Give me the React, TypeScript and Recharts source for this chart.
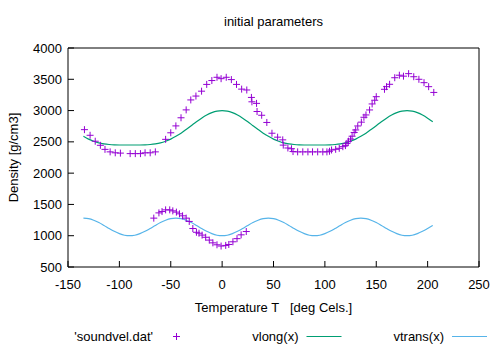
import React from 'react';
import { ComposedChart, Line, Scatter, XAxis, YAxis, Legend, Label } from 'recharts';

const FONT = '"Liberation Sans", Arial, Helvetica, sans-serif';

// 'soundvel.dat' - longitudinal branch
const longT = [
  -134, -128.5, -123.5, -118.5, -114, -109, -104, -99, -89.5, -84.5, -79.5, -75, -70, -65,
  -55, -50, -45, -40, -35, -30.5, -25.5, -20, -15, -10, -5, -1, 4, 9, 14, 19, 24,
  28.5, 29, 33.5, 34, 38.5, 43.5, 48.5, 54, 59, 59.5, 64, 67.5, 69, 73.5, 78.5, 83.5, 88, 93, 98, 102,
  104.5, 106.5, 110.5, 114, 117.5, 120, 121.5, 123, 125, 126.5, 128.5, 130, 132, 135.5, 138, 140,
  143.5, 146, 148.5, 150, 158, 160, 163, 168, 172.5, 176.5, 181.5, 186.5, 191.5, 196.5, 201, 206,
];
const longV = [
  2695, 2605, 2510, 2445, 2380, 2340, 2325, 2320, 2312, 2312, 2312, 2325, 2325, 2340,
  2540, 2645, 2755, 2885, 3011, 3170, 3232, 3310, 3418, 3480, 3532, 3510, 3532, 3495, 3418, 3343, 3329,
  3210, 3140, 3115, 2985, 2925, 2810, 2638, 2575, 2532, 2448, 2402, 2390, 2345, 2340, 2340, 2340, 2340, 2340, 2340, 2340,
  2350, 2370, 2381, 2397, 2423, 2440, 2475, 2510, 2545, 2590, 2650, 2690, 2754, 2815, 2893, 2930,
  3010, 3106, 3165, 3222, 3340, 3382, 3420, 3525, 3565, 3550, 3590, 3541, 3500, 3446, 3382, 3290,
];

// 'soundvel.dat' - transversal branch
const transT = [
  -66.5, -61.5, -58.5, -55, -51, -48, -44.5, -41.5, -38.5, -35, -32, -28.5, -25,
  -22.5, -19.5, -16, -12.5, -9, -5, -1, 3.5, 6.5, 10.5, 14.5, 18.5, 23.5,
];
const transV = [
  1281, 1365, 1386, 1413, 1413, 1397, 1377, 1350, 1318, 1281, 1228, 1115, 1055,
  1040, 1010, 975, 930, 886, 855, 835, 845, 860, 903, 953, 1014, 1067,
];

// fitted curves
const curveT = [
  -135, -130, -125, -120, -115, -110, -105, -100, -95, -90, -85, -80, -75, -70, -65, -60, -55,
  -50, -45, -40, -35, -30, -25, -20, -15, -10, -5, 0, 5, 10, 15, 20, 25, 30, 35, 40, 45,
  50, 55, 60, 65, 70, 75, 80, 85, 90, 95, 100, 105, 110, 115, 120, 125, 130, 135, 140, 145,
  150, 155, 160, 165, 170, 175, 180, 185, 190, 195, 200, 205,
];
const vlongV = [
  2588, 2544, 2510, 2484, 2468, 2458, 2452, 2450, 2450, 2450, 2450, 2450, 2452, 2458, 2468, 2484, 2510,
  2544, 2588, 2639, 2698, 2759, 2821, 2879, 2929, 2967, 2992, 3000, 2992, 2967, 2929, 2879, 2821, 2759, 2698, 2639, 2588,
  2544, 2510, 2484, 2468, 2458, 2452, 2450, 2450, 2450, 2450, 2450, 2452, 2458, 2468, 2484, 2510, 2544, 2588, 2639, 2698,
  2759, 2821, 2879, 2929, 2967, 2992, 3000, 2992, 2967, 2929, 2879, 2821,
];
const vtransV = [
  1280, 1272, 1247, 1210, 1164, 1116, 1070, 1033, 1008, 1000, 1008, 1033, 1070, 1116, 1164, 1210, 1247,
  1272, 1280, 1272, 1247, 1210, 1164, 1116, 1070, 1033, 1008, 1000, 1008, 1033, 1070, 1116, 1164, 1210, 1247, 1272, 1280,
  1272, 1247, 1210, 1164, 1116, 1070, 1033, 1008, 1000, 1008, 1033, 1070, 1116, 1164, 1210, 1247, 1272, 1280, 1272, 1247,
  1210, 1164, 1116, 1070, 1033, 1008, 1000, 1008, 1033, 1070, 1116, 1164,
];

const xTicks = [-150, -100, -50, 0, 50, 100, 150, 200, 250];
const yTicks = [500, 1000, 1500, 2000, 2500, 3000, 3500, 4000];
const seriesNames = ["'soundvel.dat'", 'vlong(x)', 'vtrans(x)'];
const seriesColors = ['#9400d3', '#009e73', '#56b4e9'];

const pts = (xs: number[], ys: number[]) => xs.map((x, i) => ({ x, y: ys[i] }));
const soundvel = [...pts(longT, longV), ...pts(transT, transV)];
const vlongData = pts(curveT, vlongV);
const vtransData = pts(curveT, vtransV);

const txt = { fontFamily: FONT, fontSize: 13, fill: '#000' };
const axisStyle = { stroke: '#000', strokeWidth: 1 };

const Plus = (p: any) => {
  if (p.cx == null || p.cy == null) return null;
  return <path d={`M${p.cx - 3.5},${p.cy}h7M${p.cx},${p.cy - 3.5}v7`} stroke={seriesColors[0]} strokeWidth={1} fill="none" />;
};

const bottomTick = (p: any) => (
  <g>
    <line x1={p.x} y1={p.y} x2={p.x} y2={p.y - 6} stroke="#000" />
    <text x={p.x} y={p.y + 22} textAnchor="middle" {...txt}>{p.payload.value}</text>
  </g>
);
const topTick = (p: any) => <line x1={p.x} y1={p.y} x2={p.x} y2={p.y + 6} stroke="#000" />;
const leftTick = (p: any) => (
  <g>
    <line x1={p.x} y1={p.y} x2={p.x + 6} y2={p.y} stroke="#000" />
    <text x={p.x - 6} y={p.y + 4.5} textAnchor="end" {...txt}>{p.payload.value}</text>
  </g>
);
const rightTick = (p: any) => <line x1={p.x} y1={p.y} x2={p.x - 6} y2={p.y} stroke="#000" />;

const renderTitle = (p: any) => {
  const vb = p.viewBox;
  return <text x={vb.x + vb.width / 2} y={vb.y - 21} textAnchor="middle" {...txt}>initial parameters</text>;
};
const renderXLabel = (p: any) => {
  const vb = p.viewBox;
  return (
    <text x={vb.x + vb.width / 2} y={vb.y + 45} textAnchor="middle" {...txt}>
      {'Temperature T\u00a0\u00a0\u00a0[deg Cels.]'}
    </text>
  );
};
const renderYLabel = (p: any) => {
  const vb = p.viewBox;
  const cx = vb.x - 49;
  const cy = vb.y + vb.height / 2;
  return (
    <text x={cx} y={cy} transform={`rotate(-90, ${cx}, ${cy})`} textAnchor="middle" {...txt}>
      Density [g/cm3]
    </text>
  );
};

const renderLegend = () => (
  <svg width={500} height={30} style={{ display: 'block' }}>
    {seriesNames.map((name, i) => {
      const end = 153 + i * 145.5;
      return (
        <g key={name}>
          <text x={end} y={23} textAnchor="end" {...txt}>{name}</text>
          {i === 0 ? (
            <path d={`M${end + 20},18.5h7M${end + 23.5},15v7`} stroke={seriesColors[i]} strokeWidth={1} />
          ) : (
            <line x1={end + 8} y1={18.5} x2={end + 43} y2={18.5} stroke={seriesColors[i]} strokeWidth={1.2} />
          )}
        </g>
      );
    })}
  </svg>
);

export default function App() {
  return (
    <div style={{ position: 'absolute', left: 0, top: 0, width: 500, height: 350, background: '#fff' }}>
      <ComposedChart width={500} height={350} margin={{ top: 47, right: 20, bottom: 82, left: 67 }}>
        <XAxis type="number" dataKey="x" domain={[-150, 250]} ticks={xTicks} interval={0} height={1}
          tickSize={0} tickMargin={0} tickLine={false} axisLine={axisStyle} tick={bottomTick}
          label={<Label content={renderXLabel} />} />
        <XAxis xAxisId="top" orientation="top" type="number" dataKey="x" domain={[-150, 250]} ticks={xTicks}
          interval={0} height={1} tickSize={0} tickMargin={0} tickLine={false} axisLine={axisStyle} tick={topTick}
          label={<Label content={renderTitle} />} />
        <YAxis type="number" dataKey="y" domain={[500, 4000]} ticks={yTicks} interval={0} width={1}
          tickSize={0} tickMargin={0} tickLine={false} axisLine={axisStyle} tick={leftTick}
          label={<Label content={renderYLabel} />} />
        <YAxis yAxisId="right" orientation="right" type="number" dataKey="y" domain={[500, 4000]} ticks={yTicks}
          interval={0} width={1} tickSize={0} tickMargin={0} tickLine={false} axisLine={axisStyle} tick={rightTick} />
        <Legend verticalAlign="middle" align="center" layout="horizontal" content={renderLegend}
          wrapperStyle={{ left: 0, top: 318, width: 500, height: 30 }} />
        <Line data={vlongData} dataKey="y" name={seriesNames[1]} type="monotone" stroke={seriesColors[1]}
          strokeWidth={1.2} dot={false} activeDot={false} isAnimationActive={false} />
        <Line data={vtransData} dataKey="y" name={seriesNames[2]} type="monotone" stroke={seriesColors[2]}
          strokeWidth={1.2} dot={false} activeDot={false} isAnimationActive={false} />
        <Scatter data={soundvel} dataKey="y" name={seriesNames[0]} shape={Plus} isAnimationActive={false} />
      </ComposedChart>
    </div>
  );
}
